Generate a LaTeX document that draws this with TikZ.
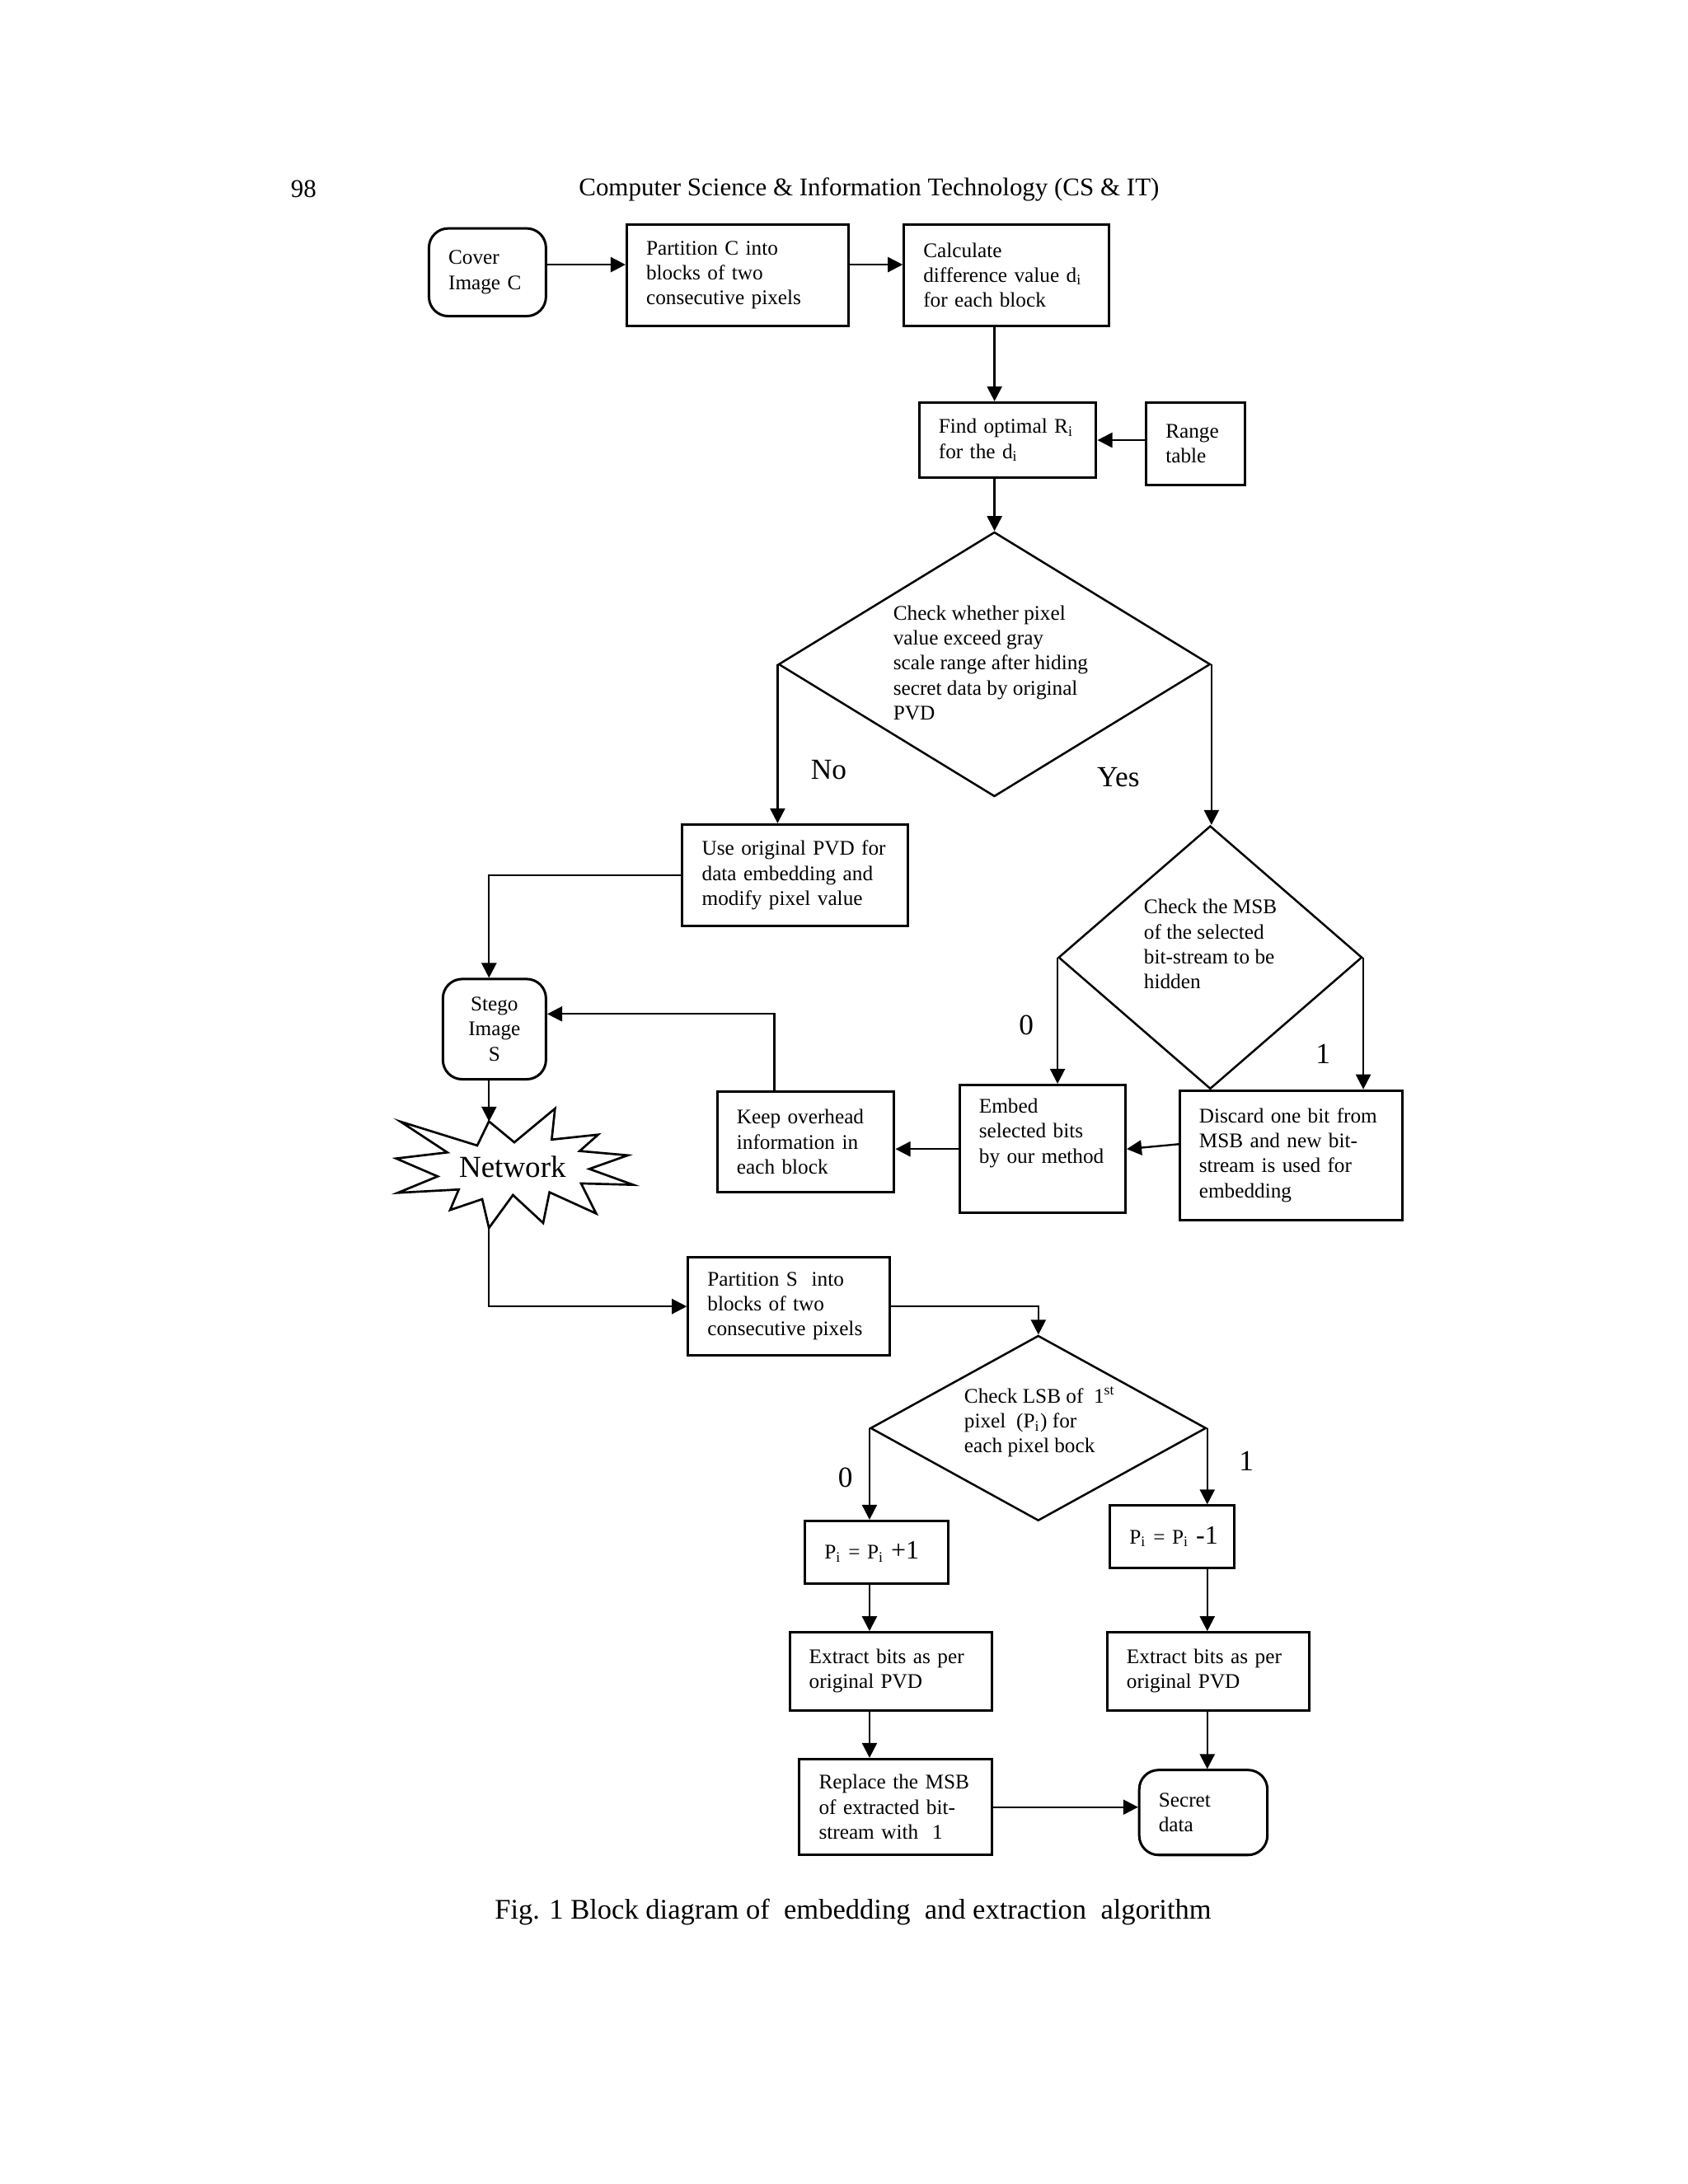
\documentclass[tikz,border=0pt]{standalone}
\usepackage{fontspec}
\setmainfont{Liberation Serif}
\usetikzlibrary{arrows.meta,shapes.geometric}

\begin{document}
\begin{tikzpicture}[x=0.5bp,y=-0.5bp,scale=1.01,transform shape,
  box/.style={draw,line width=0.9bp,rectangle,align=left,inner xsep=7bp,inner ysep=0pt,font=\fontsize{7.5}{9}\selectfont},
  rbox/.style={box,rounded corners=7bp},
  dia/.style={draw,line width=0.75bp,diamond,inner sep=0pt},
  txt/.style={inner sep=0pt,align=left,font=\fontsize{7.5}{9}\selectfont},
  lbl/.style={inner sep=0pt,font=\fontsize{10.5}{12}\selectfont},
  arr/.style={line width=0.7bp,-{Triangle[length=5.4bp,width=5.4bp]}}]
  \useasboundingbox (0,0) rectangle (1211.9,1568.3);
  \node[font=\fontsize{9.2}{11}\selectfont] (pagenum) at (218,136) {98};
  \node[font=\fontsize{9.2}{11}\selectfont] (header) at (624,136) {Computer Science \& Information Technology (CS \& IT)};

  \node[rbox,text width=28bp,minimum height=31.5bp] (cover) at (350,195.5) {Cover\\Image C};
  \node[box,text width=65.5bp,minimum height=36.5bp] (partc) at (529.5,197.5) {Partition C into\\blocks of two\\consecutive pixels};
  \node[box,text width=59.5bp,minimum height=36.5bp] (calc) at (722.5,197.5) {Calculate\\difference value d\textsubscript{i}\\for each block};
  \node[box,text width=49.5bp,minimum height=27bp] (find) at (723.5,316) {Find optimal R\textsubscript{i}\\for the d\textsubscript{i}};
  \node[box,text width=21.5bp,minimum height=29.5bp] (range) at (858.5,318.5) {Range\\table};

  \node[dia,minimum width=155bp,minimum height=95bp] (chk) at (714,477) {};
  \node[txt,anchor=west] (chktxt) at (641,476) {Check whether pixel\\value exceed gray\\scale range after hiding\\secret data by original\\PVD};
  \node[box,text width=67bp,minimum height=36.5bp] (pvd) at (571,628.5) {Use original PVD for\\data embedding and\\modify pixel value};
  \node[dia,minimum width=109bp,minimum height=94.5bp] (msb) at (869,687.5) {};
  \node[txt,anchor=west] (msbtxt) at (821,678) {Check the MSB\\of the selected\\bit-stream to be\\hidden};

  \node[rbox,align=center,text width=23bp,minimum height=36bp] (stego) at (355,739) {Stego\\Image\\S};
  \node[box,text width=49.5bp,minimum height=36bp] (keep) at (578.5,820) {Keep overhead\\information in\\each block};
  \node[box,text width=45.5bp,minimum height=46bp] (embed) at (748.5,825) {Embed\\selected bits\\by our method\\[4bp]\mbox{}};
  \node[box,text width=66bp,minimum height=46.5bp] (discard) at (927,829.5) {Discard one bit from\\MSB and new bit-\\stream is used for\\embedding};

  \begin{scope}[scale=0.9901]
    \draw[line width=0.8bp] (354.6,813.3) -- (373.0,828.5) -- (402.5,804.0) -- (400.1,826.5) -- (433.8,822.9)
      -- (420.4,834.8) -- (455.3,837.9) -- (427.4,847.8) -- (459.2,859.3) -- (421.4,858.3) -- (432.3,880.1)
      -- (398.5,864.7) -- (393.9,887.0) -- (372.0,866.7) -- (354.6,890.6) -- (349.7,869.7) -- (326.4,877.6)
      -- (332.7,862.7) -- (288.5,865.1) -- (317.4,853.2) -- (287.3,840.2) -- (324.4,835.8) -- (290.5,813.5)
      -- (346.1,830.8) -- cycle;
    \coordinate (nettop) at (354.6,813.3);
    \coordinate (netbot) at (354.6,890.6);
  \end{scope}
  \node[inner sep=0pt,font=\fontsize{11}{13}\selectfont] (net) at (368,838) {Network};

  \node[box,text width=58.5bp,minimum height=35bp] (parts) at (566.5,938) {Partition S\ \ into\\blocks of two\\consecutive pixels};
  \node[dia,minimum width=120.5bp,minimum height=66.5bp] (lsb) at (745.5,1025.5) {};
  \node[txt,anchor=west] (lsbtxt) at (692,1021) {Check LSB of\ \ 1\textsuperscript{st}\\pixel\ \ (P\textsubscript{i}) for\\each pixel bock};
  \node[box,text width=37.5bp,minimum height=22.5bp] (pplus) at (629.5,1114.5) {\mbox{P\textsubscript{i} = P\textsubscript{i} {\fontsize{9.5}{9}\selectfont +1}}};
  \node[box,text width=30.5bp,minimum height=22.5bp] (pminus) at (841.5,1103.5) {\mbox{P\textsubscript{i} = P\textsubscript{i} {\fontsize{9.5}{9}\selectfont -1}}};
  \node[box,text width=58.5bp,minimum height=28bp] (extl) at (639.5,1200) {Extract bits as per\\original PVD};
  \node[box,text width=58.5bp,minimum height=28bp] (extr) at (867.5,1200) {Extract bits as per\\original PVD};
  \node[box,text width=55bp,minimum height=34.5bp] (repl) at (643,1297.5) {Replace the MSB\\of extracted bit-\\stream with\ \ 1};
  \node[rbox,text width=32bp,minimum height=30.5bp] (secret) at (864,1301.5) {Secret\\data};

  \node[lbl] (no) at (595,553) {No};
  \node[lbl] (yes) at (803,558) {Yes};
  \node[lbl] (zeroa) at (737,736) {0};
  \node[lbl] (onea) at (950,757) {1};
  \node[lbl] (zerob) at (607,1061) {0};
  \node[lbl] (oneb) at (895,1049) {1};

  \draw[arr] ([yshift=2.75bp]cover.east) -- ([yshift=2.75bp]cover.east -| partc.west);
  \draw[arr] ([yshift=3.75bp]partc.east) -- ([yshift=3.75bp]calc.west);
  \draw[arr] (calc.south -| chk.north) -- (find.north -| chk.north);
  \draw[arr] (range.west |- find.east) -- (find.east);
  \draw[arr] (find.south -| chk.north) -- (chk.north);
  \draw[arr] (chk.west) -- (chk.west |- pvd.north);
  \draw[arr] (chk.east) -- (chk.east |- msb.north);
  \draw[arr] (pvd.west) -| (stego.north -| nettop);
  \draw[arr] (msb.west) -- (msb.west |- embed.north);
  \draw[arr] (msb.east) -- (msb.east |- discard.north);
  \draw[arr] ([yshift=4bp]discard.west) -- (embed.east);
  \draw[arr] (embed.west) -- (embed.west -| keep.east);
  \draw[arr] ([xshift=-11.25bp]keep.north) |- ([yshift=5.5bp]stego.east);
  \draw[arr] (stego.south -| nettop) -- (nettop);
  \draw[arr] (netbot) |- (parts.west);
  \draw[arr] (parts.east) -| (lsb.north);
  \draw[arr] (lsb.west) -- (lsb.west |- pplus.north);
  \draw[arr] (lsb.east) -- (lsb.east |- pminus.north);
  \draw[arr] (pplus.south -| lsb.west) -- (extl.north -| lsb.west);
  \draw[arr] (pminus.south -| lsb.east) -- (extr.north -| lsb.east);
  \draw[arr] (extl.south -| lsb.west) -- (repl.north -| lsb.west);
  \draw[arr] (extr.south -| lsb.east) -- (secret.north -| lsb.east);
  \draw[arr] (repl.east) -- (repl.east -| secret.west);

  \node[font=\fontsize{10.25}{12}\selectfont] (caption) at (612.5,1373) {Fig. 1 Block diagram of\ \ embedding\ \ and extraction\ \ algorithm};
\end{tikzpicture}
\end{document}
